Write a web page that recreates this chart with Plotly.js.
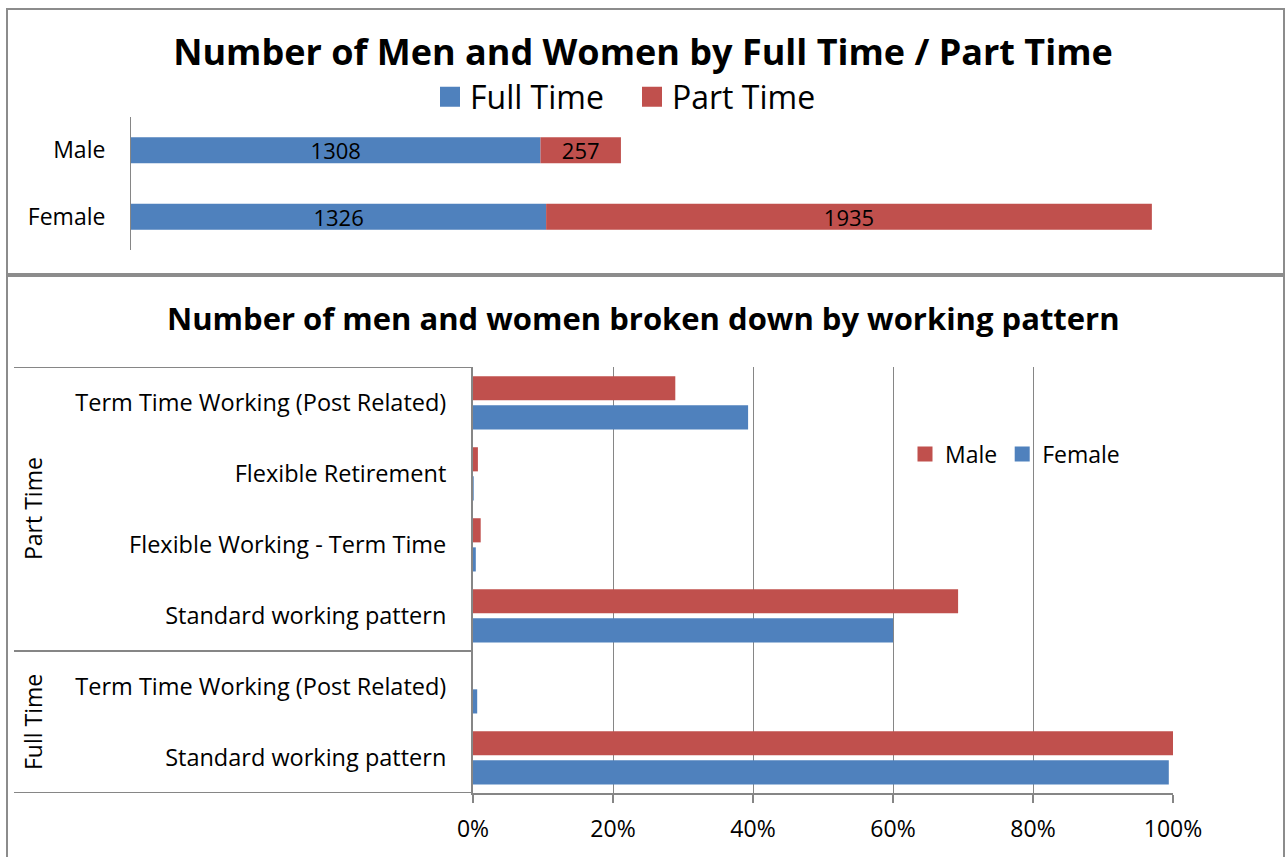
<!DOCTYPE html>
<html>
<head>
<meta charset="utf-8">
<script src="https://cdn.plot.ly/plotly-3.0.1.min.js"></script>
<style>
html,body{margin:0;padding:0;background:#fff;}
#chart{width:1286px;height:857px;}
</style>
</head>
<body>
<div id="chart"></div>
<script>
// ---- Data: chart 1 (counts) ----
const genders = ['Male', 'Female'];
const fullTimeCounts = [1308, 1326];
const partTimeCounts = [257, 1935];

// ---- Data: chart 2 (percent by working pattern), bottom to top ----
const patternGroups = ['Full Time', 'Full Time', 'Part Time', 'Part Time', 'Part Time', 'Part Time'];
const patternLabels = ['Standard working pattern', 'Term Time Working (Post Related)',
  'Standard working pattern', 'Flexible Working - Term Time', 'Flexible Retirement',
  'Term Time Working (Post Related)'];
const malePct = [100, 0, 69.3, 1.1, 0.7, 28.9];
const femalePct = [99.4, 0.6, 60.0, 0.4, 0.1, 39.3];
const pctTicks = [0, 20, 40, 60, 80, 100];

// ---- Styling ----
const W = 1286, H = 857;
const px = v => v / W;
const py = v => 1 - v / H;
const FONT = '"Open Sans", Lato, sans-serif';
const BLUE = '#4F81BD', RED = '#C0504D', GREY = '#868686', BORDER = '#8C8C8C';

const patternPos = patternLabels.map((_, i) => i);

const traces = [
  {
    type: 'bar', orientation: 'h', name: 'Full Time',
    x: fullTimeCounts, y: genders, xaxis: 'x', yaxis: 'y',
    marker: {color: BLUE}, width: 0.39, offset: -0.195,
    text: fullTimeCounts.map(String), textposition: 'inside', insidetextanchor: 'middle',
    constraintext: 'none', textfont: {color: '#000', size: 22, family: FONT},
    legend: 'legend', hoverinfo: 'x+y+name'
  },
  {
    type: 'bar', orientation: 'h', name: 'Part Time',
    x: partTimeCounts, y: genders, base: fullTimeCounts, xaxis: 'x', yaxis: 'y',
    marker: {color: RED}, width: 0.39, offset: -0.195,
    text: partTimeCounts.map(String), textposition: 'inside', insidetextanchor: 'middle',
    constraintext: 'none', textfont: {color: '#000', size: 22, family: FONT},
    legend: 'legend', hoverinfo: 'x+y+name'
  },
  {
    type: 'bar', orientation: 'h', name: 'Male',
    x: malePct, y: patternPos, xaxis: 'x2', yaxis: 'y2',
    marker: {color: RED}, width: 0.34, offset: 0.03,
    legend: 'legend2', textposition: 'none'
  },
  {
    type: 'bar', orientation: 'h', name: 'Female',
    x: femalePct, y: patternPos, xaxis: 'x2', yaxis: 'y2',
    marker: {color: BLUE}, width: 0.34, offset: -0.38,
    legend: 'legend2', textposition: 'none'
  }
];

// group label annotations & divider shapes computed from the group arrays
const groupNames = [...new Set(patternGroups)];
const groupAnn = groupNames.map(g => {
  const idx = patternGroups.map((v, i) => v === g ? i : -1).filter(i => i >= 0);
  const mid = (Math.min(...idx) + Math.max(...idx)) / 2;
  return {
    text: g, xref: 'paper', yref: 'y2', x: px(33), y: mid,
    textangle: -90, showarrow: false, xanchor: 'center', yanchor: 'middle',
    font: {family: FONT, size: 23, color: '#000'}
  };
});
const boundaries = [-0.5];
for (let i = 1; i < patternGroups.length; i++) {
  if (patternGroups[i] !== patternGroups[i - 1]) boundaries.push(i - 0.5);
}
boundaries.push(patternGroups.length - 0.5);
const dividerShapes = boundaries.map(b => ({
  type: 'line', xref: 'paper', yref: 'y2', x0: px(14), x1: px(473), y0: b, y1: b,
  line: {color: GREY, width: 2}
}));

const layout = {
  width: W, height: H,
  margin: {l: 0, r: 0, t: 0, b: 0},
  paper_bgcolor: '#fff', plot_bgcolor: 'rgba(0,0,0,0)',
  barmode: 'overlay',
  font: {family: FONT, color: '#000'},
  showlegend: true,
  title: {
    text: '<b>Number of Men and Women by Full Time / Part Time</b>',
    x: 0.5, xanchor: 'center', xref: 'paper',
    y: py(52), yanchor: 'middle', yref: 'paper',
    font: {family: FONT, size: 36, color: '#000'}
  },
  xaxis: {
    domain: [px(131), px(1258)], range: [0, 3600], anchor: 'y',
    visible: false, fixedrange: true
  },
  yaxis: {
    domain: [py(250), py(117)], anchor: 'x', type: 'category',
    categoryorder: 'array', categoryarray: ['Female', 'Male'],
    range: [-0.5, 1.5],
    showline: true, linecolor: GREY, linewidth: 1, ticks: '', showgrid: false,
    ticklabelstandoff: 20,
    tickfont: {family: FONT, size: 23, color: '#000'}, zeroline: false
  },
  xaxis2: {
    domain: [px(473), px(1173)], range: [0, 100], anchor: 'y2',
    tickvals: pctTicks, ticktext: pctTicks.map(v => v + '%'),
    showgrid: true, gridcolor: GREY, gridwidth: 1,
    showline: true, linecolor: GREY, linewidth: 2,
    ticks: 'outside', ticklen: 8, tickcolor: GREY, tickwidth: 2,
    ticklabelstandoff: 6,
    tickfont: {family: FONT, size: 23, color: '#000'}, zeroline: false
  },
  yaxis2: {
    domain: [py(793), py(367)], anchor: 'x2', range: [-0.5, 5.5],
    tickvals: patternPos, ticktext: patternLabels,
    showline: true, linecolor: GREY, linewidth: 2, ticks: '', showgrid: false,
    ticklabelstandoff: 20,
    tickfont: {family: FONT, size: 23.5, color: '#000'}, zeroline: false
  },
  legend: {
    orientation: 'h', x: px(430), xanchor: 'left', xref: 'paper',
    y: py(97), yanchor: 'middle', yref: 'paper',
    font: {family: FONT, size: 32, color: '#000'},
    entrywidth: 157,
    bgcolor: 'rgba(0,0,0,0)', itemclick: false, itemdoubleclick: false,
    tracegroupgap: 0
  },
  legend2: {
    orientation: 'h', x: px(905), xanchor: 'left', xref: 'paper',
    y: py(454), yanchor: 'middle', yref: 'paper',
    font: {family: FONT, size: 23, color: '#000'},
    bgcolor: 'rgba(0,0,0,0)', itemclick: false, itemdoubleclick: false
  },
  annotations: [
    {
      text: '<b>Number of men and women broken down by working pattern</b>',
      xref: 'paper', yref: 'paper', x: 0.5, y: py(318),
      xanchor: 'center', yanchor: 'middle', showarrow: false,
      font: {family: FONT, size: 31, color: '#000'}
    },
    ...groupAnn
  ],
  shapes: [
    {type: 'rect', xref: 'paper', yref: 'paper', x0: px(7), x1: px(1284), y0: py(274), y1: py(9),
     line: {color: BORDER, width: 2}, fillcolor: 'rgba(0,0,0,0)', layer: 'below'},
    {type: 'rect', xref: 'paper', yref: 'paper', x0: px(7), x1: px(1284), y0: py(870), y1: py(276),
     line: {color: BORDER, width: 2}, fillcolor: 'rgba(0,0,0,0)', layer: 'below'},
    ...dividerShapes
  ]
};

Plotly.newPlot('chart', traces, layout, {displayModeBar: false, staticPlot: true}).then(gd => {
  // enlarge legend swatches to match the reference's square markers
  const sizes = {legend: 10, legend2: 7.5};
  Object.keys(sizes).forEach(name => {
    const s = sizes[name];
    gd.querySelectorAll('g.' + name + ' .legendpoints path').forEach(p => {
      p.setAttribute('d', `M${s},${s}H-${s}V-${s}H${s}Z`);
    });
  });
});
</script>
</body>
</html>
